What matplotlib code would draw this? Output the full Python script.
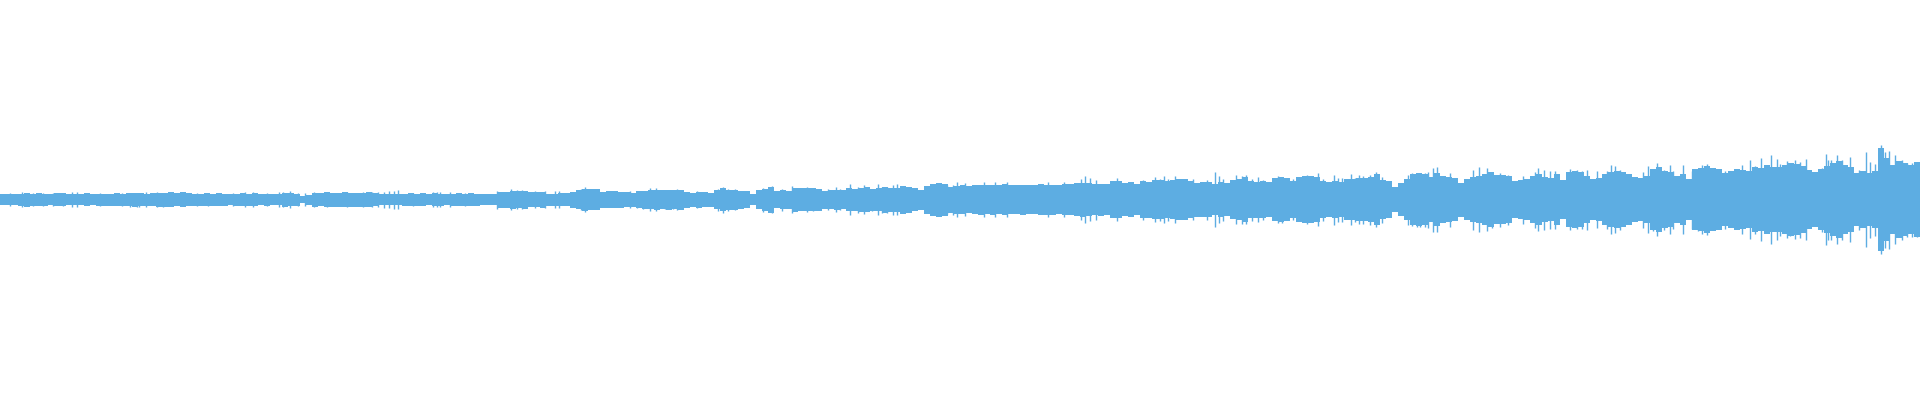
import numpy as np
import matplotlib
matplotlib.use("Agg")
import matplotlib.pyplot as plt

COLOR = "#5dade2"
sections = [(0, 480), (480, 960), (960, 1440), (1440, 1920)]
amp_a = [
    5.5, 5.5, 5.5, 6.0, 7.0, 6.0, 6.5, 6.0, 5.5, 6.5,
    6.5, 5.5, 5.5, 5.5, 6.5, 5.5, 6.0, 6.0, 6.0, 6.5,
    6.0, 6.5, 7.0, 6.5, 6.0, 6.5, 7.0, 7.0, 7.5, 6.5,
    7.5, 6.5, 6.0, 6.0, 6.5, 6.0, 6.5, 6.0, 5.5, 6.0,
    6.5, 6.0, 6.5, 5.5, 6.0, 5.5, 5.5, 7.0, 6.5, 6.0,
    3.5, 5.0, 7.0, 6.5, 7.5, 7.0, 7.0, 7.5, 7.0, 7.0,
    7.0, 7.5, 6.5, 5.5, 5.5, 5.5, 5.5, 6.0, 6.5, 6.0,
    6.5, 5.5, 6.5, 6.0, 5.5, 6.0, 6.5, 6.0, 6.5, 6.0,
]
amp_b = [
    5.7, 5.5, 5.5, 8.0, 8.0, 9.0, 8.5, 9.0, 7.5, 7.5,
    8.0, 6.0, 6.0, 6.5, 6.5, 8.0, 9.5, 11.0, 10.5, 10.5,
    8.0, 8.5, 8.5, 8.0, 7.5, 7.0, 8.5, 9.0, 9.5, 10.0,
    9.5, 10.0, 9.5, 10.0, 8.0, 7.0, 8.0, 7.5, 7.0, 9.5,
    11.5, 10.0, 10.0, 9.0, 8.5, 5.5, 9.5, 11.0, 13.0, 8.5,
    9.5, 9.0, 12.0, 11.5, 11.5, 11.5, 11.0, 9.0, 9.5, 10.0,
    9.5, 11.5, 11.0, 12.0, 12.5, 11.0, 11.5, 13.0, 12.0, 12.0,
    14.0, 13.0, 11.5, 10.0, 14.0, 16.0, 17.0, 16.0, 13.0, 14.0,
]
amp_c = [
    14.5, 13.5, 14.5, 15, 14.5, 15, 14.5, 15.5, 14.5, 14.5,
    15, 14.5, 14.5, 15.5, 15, 15, 14.5, 15.5, 15.5, 16.5,
    17, 16.5, 15.5, 16, 15.5, 18.5, 18.5, 16.5, 17.5, 15.5,
    18.5, 18, 19.5, 19.5, 18.5, 19.5, 20.5, 20.5, 18.5, 17,
    17.5, 17.5, 15.5, 17.5, 16.5, 19.5, 20.5, 22.5, 18.5, 18,
    18.5, 17.5, 21.5, 22.5, 21.5, 18.5, 22.5, 23.5, 23.5, 22.5,
    18.5, 17.5, 18.5, 17.5, 20.5, 20.5, 21.5, 21.5, 22.5, 25.5,
    19.5, 18.5, 12.5, 16.5, 20.5, 25.5, 26.5, 25.5, 22.5, 26.5,
]
amp_d = [
    23.5, 22.5, 21.5, 17, 20.5, 22.5, 23.5, 25.5, 27.5, 24.5,
    24.5, 23.5, 18.5, 19.5, 20.5, 23.5, 25.5, 22.5, 21.5, 25.5,
    19.5, 27.5, 28.5, 27.5, 23.5, 20.5, 21.5, 25.5, 27.5, 28.5,
    27.5, 25.5, 22.5, 21.5, 23.5, 30.5, 32.5, 28.5, 27.5, 23.5,
    25.5, 20.5, 30.5, 31.5, 33.5, 31.5, 30.5, 26.5, 28.5, 30.5,
    29.5, 28.5, 32.5, 31.5, 34.5, 32.5, 32.5, 34.5, 36.5, 35.5,
    33.5, 29.5, 27.5, 30.5, 33.5, 36.5, 38.5, 34.5, 32.5, 26.5,
    28.5, 26.5, 28.5, 51.5, 41.5, 34.5, 38.5, 36.5, 34.5, 37.5,
]
spike_pos = [
    22, 72, 77, 130, 139, 146, 157, 245, 279, 283, 290, 314, 347, 372, 384, 389, 394, 398, 433, 440,
    511, 535, 545, 559, 581, 585, 650, 656, 677, 723, 772, 792, 836, 850, 864, 878, 882, 897, 931, 940, 947, 957,
    965, 984, 995, 1007, 1048, 1064, 1081, 1085, 1090, 1096, 1117, 1143, 1155, 1164, 1175, 1193, 1215, 1219,
    1236, 1246, 1258, 1278, 1293, 1307, 1318, 1334, 1351, 1359, 1370, 1376, 1412, 1417, 1425, 1433, 1437,
    1479, 1487, 1538, 1570, 1577, 1597, 1611, 1615, 1648, 1657, 1670, 1683, 1702, 1707, 1742, 1750, 1761,
    1771, 1777, 1787, 1795, 1806, 1826, 1831, 1837, 1850, 1866, 1881, 1885, 1889, 1895, 1917,
]
spike_amp = [
    7.7, 7.7, 7.5, 7.0, 7.0, 7.7, 7.3, 7.7, 7.5, 7.7, 8.7, 7.5, 7.3, 7.5, 8.0, 8.5, 9.0, 9.5, 7.3, 7.3,
    10.3, 8.7, 8.7, 8.7, 10.7, 12.7, 11.3, 11.7, 10.5, 13.0, 13.7, 13.7, 12.7, 15.7, 14.7, 15.7, 13.0, 15.7, 15.7, 16.7, 14.7, 17.7,
    16.7, 17.7, 17.7, 17.7, 17.7, 17.7, 20.7, 23.7, 21.7, 20.0, 21.7, 20.0, 22.7, 23.7, 23.7, 20.7, 27.7, 23.7,
    24.7, 24.7, 22.7, 23.7, 20.7, 24.7, 26.7, 25.0, 25.7, 24.7, 25.0, 27.7, 26.7, 27.0, 27.0, 32.0, 32.7,
    32.7, 31.7, 31.7, 30.7, 29.7, 28.7, 34.7, 33.7, 33.7, 36.7, 34.7, 34.7, 34.7, 35.7, 34.7, 39.7, 41.7,
    44.7, 40.7, 38.7, 39.7, 40.7, 45.7, 40.0, 44.7, 42.7, 47.7, 54.7, 48.0, 49.0, 44.7, 37.0,
]
tip_pos = [
    10, 33, 43, 53, 63, 100, 122, 137, 163, 182, 197, 208, 233, 253, 267, 298, 305, 327, 338, 355, 363, 378, 413, 437, 450, 465,
    497, 517, 522, 555, 630, 637, 643, 665, 673, 697, 718, 728, 735, 763, 782, 807, 813, 828, 840, 858, 872, 887, 893, 927, 935, 943, 953,
    1160, 1168, 1207, 1223, 1242, 1252, 1263, 1282, 1323, 1338, 1342, 1355, 1363, 1382, 1408, 1420, 1428,
    1450, 1473, 1492, 1500, 1508, 1523, 1535, 1544, 1550, 1555, 1582, 1587, 1607, 1620, 1643, 1653, 1664, 1673, 1692, 1698,
    1715, 1725, 1735, 1755, 1768, 1780, 1790, 1800, 1822, 1828, 1842, 1859, 1870, 1875, 1902, 1907, 1912,
]
tip_amp = [
    6.5, 6.3, 6.5, 6.5, 6.7, 6.3, 6.5, 7.0, 7.0, 6.3, 6.3, 6.3, 6.5, 7.3, 6.7, 6.7, 6.7, 7.3, 6.7, 6.7, 7.3, 7.7, 6.7, 7.3, 7.3, 6.5,
    9.0, 9.5, 9.5, 8.3, 8.5, 8.5, 9.0, 9.5, 9.5, 8.7, 11.0, 11.0, 10.5, 12.0, 11.0, 12.5, 11.5, 10.5, 10.5, 13.0, 11.0, 13.0, 15.0, 13.0, 15.0, 14.0, 15.0,
    21, 21, 20, 21, 24, 21, 20, 23, 21, 22, 22, 22, 24, 23, 25, 27, 28,
    27, 30, 28, 27, 25, 24, 28, 30, 29, 29, 29, 30, 29, 30, 28, 31, 30, 29, 29, 31,
    29, 29, 29, 34, 33, 36, 36, 38, 32, 40, 40, 30, 38, 36, 40, 37, 37,
]

fig = plt.figure(figsize=(19.2, 4.0), dpi=100)
ax = fig.add_axes([0, 0, 1, 1])
for (start, end), values in zip(sections, [amp_a, amp_b, amp_c, amp_d]):
    amps = np.array(values, dtype=float)
    edges = np.linspace(start, end, len(amps) + 1)
    ax.bar(edges[:-1], 2 * amps, bottom=-amps, width=np.diff(edges), align="edge",
           color=COLOR, linewidth=0)
sp = np.array(spike_amp)
ax.vlines(spike_pos, -sp, sp, color=COLOR, linewidth=1.0)
tp = np.array(tip_amp)
ax.vlines(tip_pos, -tp, tp, color=COLOR, linewidth=1.0)
ax.set_xlim(0, 1920)
ax.set_ylim(-200.3, 199.7)
ax.axis("off")
fig.savefig("out.png", dpi=100, facecolor="white")
